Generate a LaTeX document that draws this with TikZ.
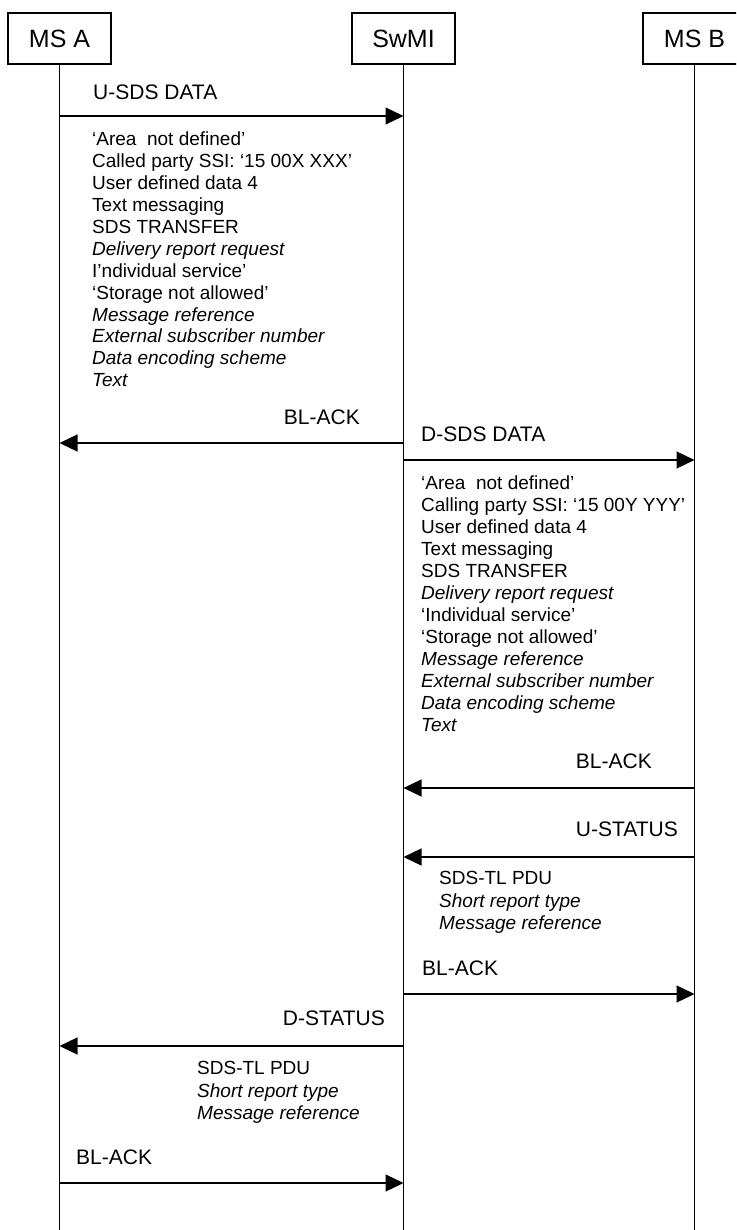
\documentclass[tikz,border=0pt]{standalone}
\usepackage{fontspec}
\setmainfont{Liberation Sans}
\usetikzlibrary{arrows.meta}
\begin{document}
\begin{tikzpicture}[x=1pt,y=-1pt,
  ent/.style={draw, line width=1.2pt, minimum width=103pt, minimum height=51pt, inner sep=0pt, font=\fontsize{25}{30}\selectfont},
  life/.style={line width=1.2pt},
  msg/.style={line width=1.2pt, -{Triangle[length=18pt,width=17pt]}},
  lbl/.style={inner sep=0pt, font=\fontsize{21}{25}\selectfont},
  txt/.style={inner sep=0pt, anchor=base west, font=\fontsize{19}{22}\selectfont}]
\useasboundingbox (0,0) rectangle (736,1230);
\begin{scope}
\clip (0,0) rectangle (736,1230);
% entities
\node[ent] (A) at (59.5,38.5) {MS A};
\node[ent] (S) at (403.5,38.5) {SwMI};
\node[ent] (B) at (694.5,38.5) {MS B};
% lifelines
\coordinate (Aend) at (A.south |- 0,1232);
\coordinate (Send) at (S.south |- 0,1232);
\coordinate (Bend) at (B.south |- 0,1232);
\draw[life] (A.south) -- (Aend);
\draw[life] (S.south) -- (Send);
\draw[life] (B.south) -- (Bend);
% messages
\draw[msg] (A |- 0,116) -- (S |- 0,116);
\draw[msg] (S |- 0,443) -- (A |- 0,443);
\draw[msg] (S |- 0,460) -- (B |- 0,460);
\draw[msg] (B |- 0,788) -- (S |- 0,788);
\draw[msg] (B |- 0,857) -- (S |- 0,857);
\draw[msg] (S |- 0,994) -- (B |- 0,994);
\draw[msg] (S |- 0,1046) -- (A |- 0,1046);
\draw[msg] (A |- 0,1183) -- (S |- 0,1183);
% labels
\node[lbl, anchor=base west] (l1) at (93,99.5) {U-SDS DATA};
\node[lbl, anchor=base east] (l2) at (360,424.5) {BL-ACK};
\node[lbl, anchor=base west] (l3) at (421,441.5) {D-SDS DATA};
\node[lbl, anchor=base east] (l4) at (652,768.5) {BL-ACK};
\node[lbl, anchor=base east] (l5) at (678,836.5) {U-STATUS};
\node[lbl, anchor=base west] (l6) at (422,975.5) {BL-ACK};
\node[lbl, anchor=base east] (l7) at (385,1025.5) {D-STATUS};
\node[lbl, anchor=base west] (l8) at (76,1164.5) {BL-ACK};
% text block 1
\foreach \t [count=\i] in {
  {‘Area\ \ not defined’},
  {Called party SSI: ‘15 00X XXX’},
  {User defined data 4},
  {Text messaging},
  {SDS TRANSFER},
  {\itshape Delivery report request},
  {I’ndividual service’},
  {‘Storage not allowed’},
  {\itshape Message reference},
  {\itshape External subscriber number},
  {\itshape Data encoding scheme},
  {\itshape Text}}
  \node[txt] (ta\i) at (92,145.8+21.9*\i-21.9) {\t};
% text block 2
\foreach \t [count=\i] in {
  {‘Area\ \ not defined’},
  {Calling party SSI: ‘15 00Y YYY’},
  {User defined data 4},
  {Text messaging},
  {SDS TRANSFER},
  {\itshape Delivery report request},
  {‘Individual service’},
  {‘Storage not allowed’},
  {\itshape Message reference},
  {\itshape External subscriber number},
  {\itshape Data encoding scheme},
  {\itshape Text}}
  \node[txt] (tb\i) at (421,489.8+22*\i-22) {\t};
% text block 3
\foreach \t [count=\i] in {
  {SDS-TL PDU},
  {\itshape Short report type},
  {\itshape Message reference}}
  \node[txt] (tc\i) at (439,884.8+22.5*\i-22.5) {\t};
% text block 4
\foreach \t [count=\i] in {
  {SDS-TL PDU},
  {\itshape Short report type},
  {\itshape Message reference}}
  \node[txt] (td\i) at (197,1074.8+22.5*\i-22.5) {\t};
\end{scope}
\end{tikzpicture}
\end{document}
